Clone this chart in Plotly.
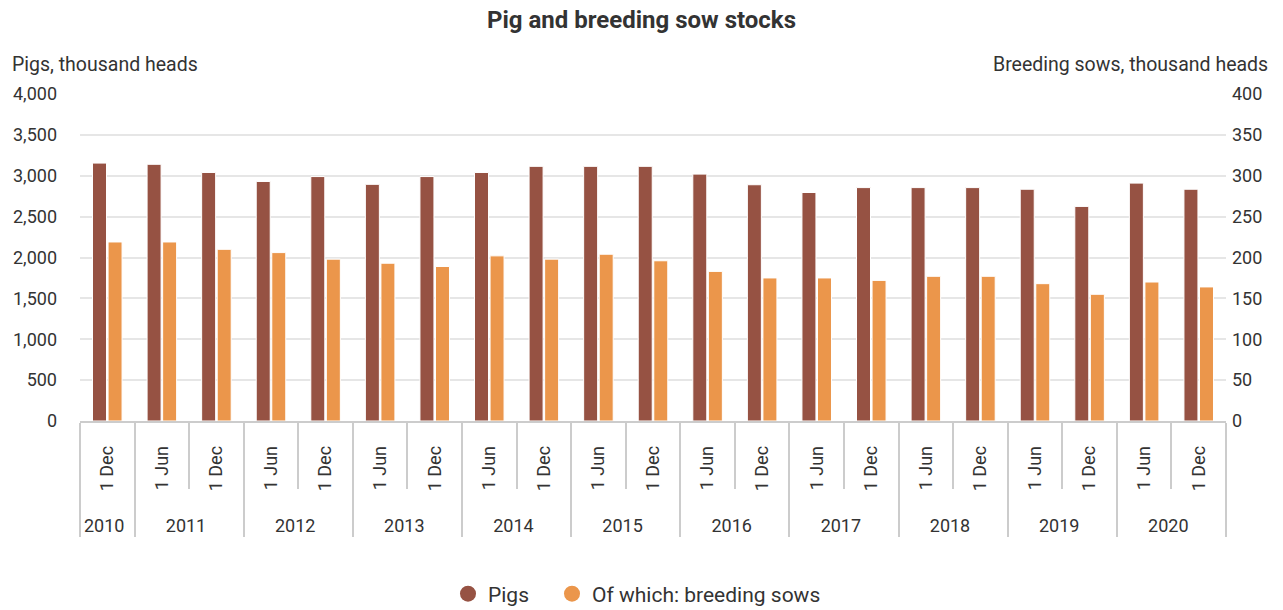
import plotly.graph_objects as go

# Survey dates: year group and day/month of each stock count.
# The lone 2010 entry carries a zero-width space so that, inside each year,
# "1 Jun" is registered before "1 Dec" on the multicategory axis.
years = ["2010", "2011", "2011", "2012", "2012", "2013", "2013", "2014", "2014",
         "2015", "2015", "2016", "2016", "2017", "2017", "2018", "2018",
         "2019", "2019", "2020", "2020"]
periods = ["1 Dec\u200b", "1 Jun", "1 Dec", "1 Jun", "1 Dec", "1 Jun", "1 Dec", "1 Jun", "1 Dec",
           "1 Jun", "1 Dec", "1 Jun", "1 Dec", "1 Jun", "1 Dec", "1 Jun", "1 Dec",
           "1 Jun", "1 Dec", "1 Jun", "1 Dec"]

# Stocks, thousand heads
pigs = [3155, 3140, 3040, 2930, 2990, 2895, 2990, 3040, 3115, 3115, 3115,
        3020, 2890, 2795, 2855, 2855, 2855, 2835, 2625, 2910, 2835]
sows = [219, 219, 210, 206, 198, 193, 189, 202, 198, 204, 196,
        183, 175, 175, 172, 177, 177, 168, 155, 170, 164]

pig_ticks = [0, 500, 1000, 1500, 2000, 2500, 3000, 3500, 4000]
sow_ticks = [0, 50, 100, 150, 200, 250, 300, 350, 400]

PIG_COLOR = "#965243"
SOW_COLOR = "#EB964B"
FONT = "Roboto"
TXT = "#333333"
LINE = "#cccccc"

# Leading no-break spaces lengthen the rotated date labels downwards,
# which lowers the year row beneath them.
PAD = "\u00a0" * 5
x = [years, [PAD + p for p in periods]]

fig = go.Figure()
fig.add_trace(go.Bar(
    x=x, y=pigs, name="Pigs", yaxis="y", offsetgroup="pigs",
    marker=dict(color=PIG_COLOR, line=dict(color="white", width=1)),
    showlegend=False,
))
fig.add_trace(go.Bar(
    x=x, y=sows, name="Of which: breeding sows", yaxis="y2", offsetgroup="sows",
    marker=dict(color=SOW_COLOR, line=dict(color="white", width=1)),
    showlegend=False,
))
# Round legend markers, one legend box per series
fig.add_trace(go.Scatter(x=[None], y=[None], mode="markers", name="Pigs", legend="legend",
                         marker=dict(color=PIG_COLOR, size=18, symbol="circle")))
fig.add_trace(go.Scatter(x=[None], y=[None], mode="markers", name="Of which: breeding sows",
                         legend="legend2",
                         marker=dict(color=SOW_COLOR, size=18, symbol="circle")))

legend_style = dict(orientation="h", xanchor="left", y=-173 / 327, yanchor="middle",
                    font=dict(size=21, color=TXT), itemsizing="trace",
                    bgcolor="rgba(0,0,0,0)")

fig.update_layout(
    width=1283, height=610,
    margin=dict(l=80, r=57, t=94, b=189, autoexpand=False),
    paper_bgcolor="white", plot_bgcolor="white",
    font=dict(family=FONT, color=TXT, size=18),
    bargap=0.43, bargroupgap=0.1,
    title=dict(text="<b>Pig and breeding sow stocks</b>", x=0.5, xanchor="center",
               y=1 - 20 / 610, yanchor="middle",
               font=dict(family=FONT, size=24, color="#333333")),
    xaxis=dict(
        type="multicategory", tickangle=-90,
        ticks="outside", ticklen=66, tickcolor=LINE, tickwidth=1.5,
        showline=True, linecolor=LINE, linewidth=1.5,
        showdividers=True, dividercolor=LINE, dividerwidth=1.5,
        tickfont=dict(size=18, color=TXT), ticklabelstandoff=16,
        showgrid=False,
    ),
    yaxis=dict(
        range=[0, 4000], tickvals=pig_ticks, tickformat=",",
        showgrid=True, gridcolor="#e6e6e6", gridwidth=1.5, zeroline=False,
        tickfont=dict(size=18, color=TXT), ticks="", ticklabelstandoff=22,
    ),
    yaxis2=dict(
        range=[0, 400], tickvals=sow_ticks, overlaying="y", side="right",
        showgrid=False, zeroline=False,
        tickfont=dict(size=18, color=TXT), ticks="", ticklabelstandoff=5,
    ),
    legend=dict(x=(448 - 80) / 1146, **legend_style),
    legend2=dict(x=(552 - 80) / 1146, **legend_style),
    annotations=[
        dict(text="Pigs, thousand heads", xref="paper", yref="paper",
             x=-70 / 1146, y=1 + 30 / 327, xanchor="left", yanchor="middle",
             showarrow=False, font=dict(size=19.5, color=TXT)),
        dict(text="Breeding sows, thousand heads", xref="paper", yref="paper",
             x=1 + 44 / 1146, y=1 + 30 / 327, xanchor="right", yanchor="middle",
             showarrow=False, font=dict(size=19.5, color=TXT)),
    ],
)

fig.write_html("out.html")
